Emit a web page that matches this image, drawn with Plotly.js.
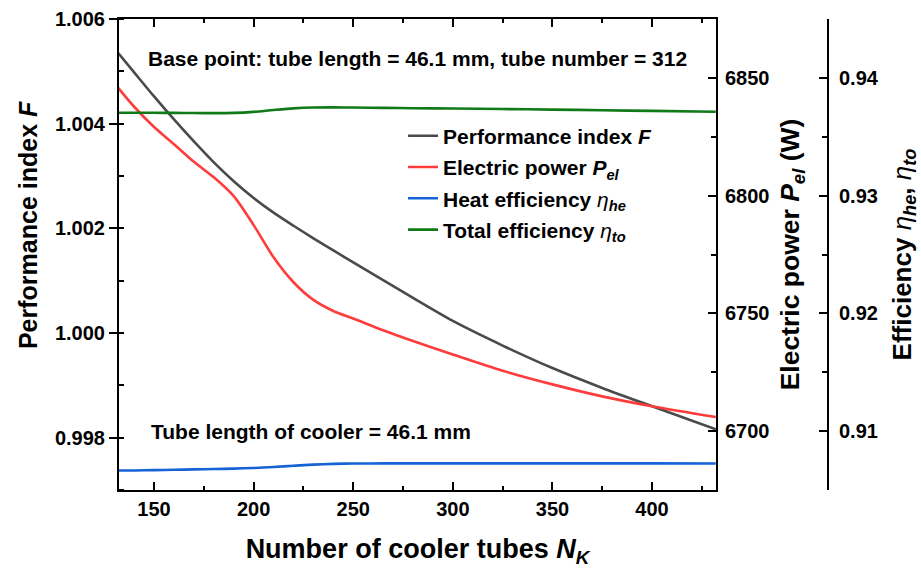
<!DOCTYPE html>
<html>
<head>
<meta charset="utf-8">
<script src="https://cdn.plot.ly/plotly-3.0.1.min.js"></script>
<style>
  html, body { margin: 0; padding: 0; background: #ffffff; }
  #chart { width: 921px; height: 568px; }
</style>
</head>
<body>
<div id="chart"></div>
<script>
// Number of cooler tubes N_K (shared abscissa)
const tubeCount = [132, 140, 150, 160, 170, 180, 190, 200, 210, 220, 230, 240, 250, 265, 280, 300, 325, 350, 375, 400, 432];

// Performance index F (left axis)
const perfIndex = [1.00535, 1.00498, 1.00452, 1.00408, 1.00366, 1.00326, 1.00290, 1.00258, 1.00230, 1.00205,
                   1.00181, 1.00158, 1.00135, 1.00101, 1.00067, 1.00023, 0.99976, 0.99933, 0.99895, 0.99860, 0.99816];

// Electric power P_el in W (first right axis)
const elecPower = [6845.8, 6837.8, 6829.2, 6821.9, 6814.4, 6807.8, 6799.8, 6787.5, 6773.8, 6763.2,
                   6755.7, 6751.0, 6747.8, 6742.8, 6738.2, 6732.5, 6725.6, 6719.8, 6714.7, 6710.5, 6705.9];

// Heat efficiency eta_he (second right axis)
const heatEff = [0.90664, 0.90665, 0.90668, 0.90671, 0.90674, 0.90677, 0.90681, 0.90686, 0.90695, 0.90705,
                 0.90715, 0.90721, 0.90724, 0.90725, 0.90725, 0.90725, 0.90725, 0.90725, 0.90725, 0.90725, 0.90724];

// Total efficiency eta_to (second right axis)
const totalEff = [0.93704, 0.93704, 0.93704, 0.93703, 0.93702, 0.93701, 0.93703, 0.93712, 0.93728, 0.93742,
                  0.93749, 0.93750, 0.93749, 0.93746, 0.93743, 0.93740, 0.93736, 0.93731, 0.93726, 0.93720, 0.93713];

// Series labels
const seriesNames = [
  'Performance index <i>F</i>',
  'Electric power <i>P</i><sub><i>el</i></sub>',
  'Heat efficiency <span style="font-weight:normal"><i>η</i></span><sub><i>he</i></sub>',
  'Total efficiency <span style="font-weight:normal"><i>η</i></span><sub><i>to</i></sub>'
];
const seriesColors = ['#4a4a4a', '#ff3c3c', '#1563d6', '#117a18'];

const FONT = 'Liberation Sans, Arial, Helvetica, sans-serif';
const bold = (size) => ({ family: FONT, size: size, color: '#000000', weight: 'bold' });

function lineTrace(i, y, axis) {
  return {
    x: tubeCount, y: y, yaxis: axis, type: 'scatter', mode: 'lines',
    name: seriesNames[i], legendgroup: 'g' + i,
    line: { color: seriesColors[i], width: 2.6, shape: 'spline', smoothing: 0.8 }
  };
}

const data = [
  lineTrace(0, perfIndex, 'y'),
  lineTrace(1, elecPower, 'y2'),
  lineTrace(2, heatEff, 'y3'),
  lineTrace(3, totalEff, 'y3')
];

const axisCommon = {
  showgrid: false, zeroline: false, showline: true,
  linecolor: '#000000', linewidth: 2,
  tickcolor: '#000000', tickwidth: 2, ticklen: 8,
  tickfont: bold(20)
};

const layout = {
  width: 921, height: 568,
  margin: { l: 119, r: 93, t: 19, b: 78 },
  paper_bgcolor: '#ffffff', plot_bgcolor: '#ffffff',
  showlegend: true,
  legend: {
    x: 0.4006, y: 0.795, xanchor: 'left', yanchor: 'top',
    bgcolor: 'rgba(0,0,0,0)', borderwidth: 0,
    font: bold(21), tracegroupgap: 1
  },
  xaxis: Object.assign({}, axisCommon, {
    domain: [0, 0.842], range: [132.4, 432.1],
    tick0: 0, dtick: 50, ticks: 'inside', mirror: 'ticks',
    ticklabelstandoff: 0,
    minor: { dtick: 25, ticks: 'inside', ticklen: 4, tickwidth: 2, tickcolor: '#000000' },
    title: { text: 'Number of cooler tubes <i>N</i><sub><i>K</i></sub>', font: bold(27), standoff: 24 }
  }),
  yaxis: Object.assign({}, axisCommon, {
    domain: [0, 1], range: [0.997, 1.006],
    tick0: 0, dtick: 0.002, tickformat: '.3f', ticks: 'outside',
    minor: { dtick: 0.001, ticks: 'inside', ticklen: 5, tickwidth: 2, tickcolor: '#000000' }
  }),
  yaxis2: Object.assign({}, axisCommon, {
    overlaying: 'y', side: 'right', anchor: 'x',
    range: [6674.9, 6875.1], tick0: 0, dtick: 50, ticks: 'inside',
    ticklabelstandoff: 3,
    minor: { dtick: 25, ticks: 'inside', ticklen: 5, tickwidth: 2, tickcolor: '#000000' },
    title: { text: 'Electric power <i>P</i><sub><i>el</i></sub> (W)', font: bold(26.5), standoff: 12 }
  }),
  yaxis3: Object.assign({}, axisCommon, {
    overlaying: 'y', side: 'right', anchor: 'free', position: 1,
    range: [0.90499, 0.94501], tick0: 0, dtick: 0.01, tickformat: '.2f', ticks: 'inside',
    ticklabelstandoff: 6,
    minor: { dtick: 0.005, ticks: 'inside', ticklen: 5, tickwidth: 2, tickcolor: '#000000' },
    title: { text: 'Efficiency <span style="font-weight:normal"><i>η</i></span><sub><i>he</i></sub>, <span style="font-weight:normal"><i>η</i></span><sub><i>to</i></sub>', font: bold(26), standoff: 14 }
  }),
  annotations: [
    {
      xref: 'paper', yref: 'paper', x: -0.1283, y: 0.5626, xanchor: 'center', yanchor: 'middle',
      textangle: -90, showarrow: false, text: 'Performance index <i>F</i>', font: bold(25)
    },
    {
      xref: 'paper', yref: 'paper', x: 0.0381, y: 0.917, xanchor: 'left', yanchor: 'middle',
      showarrow: false, text: 'Base point: tube length = 46.1 mm, tube number = 312', font: bold(21)
    },
    {
      xref: 'paper', yref: 'paper', x: 0.0423, y: 0.1238, xanchor: 'left', yanchor: 'middle',
      showarrow: false, text: 'Tube length of cooler = 46.1 mm', font: bold(21)
    }
  ]
};

Plotly.newPlot('chart', data, layout, { staticPlot: true, displayModeBar: false });
</script>
</body>
</html>
